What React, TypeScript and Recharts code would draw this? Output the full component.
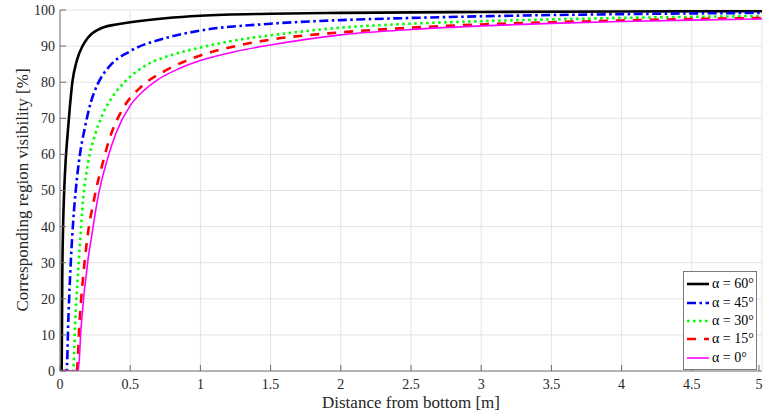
import React from 'react';
import { LineChart, Line, XAxis, YAxis, CartesianGrid, Legend } from 'recharts';

// distance from bottom [m] and visibility [%] for each alpha
const dist60 = [0, 0.012, 0.016, 0.022, 0.03, 0.04, 0.055, 0.07, 0.088, 0.12, 0.16, 0.2, 0.285, 0.4, 0.5, 0.75, 1, 1.5, 2, 3, 4, 5];
const vis60 = [0, 0, 25, 40, 50, 58, 66, 73, 80, 86, 90, 92.4, 94.8, 96, 96.6, 97.7, 98.4, 98.95, 99.2, 99.45, 99.6, 99.7];

const dist45 = [0, 0.047, 0.06, 0.078, 0.095, 0.112, 0.142, 0.175, 0.22, 0.27, 0.35, 0.5, 0.75, 1, 1.5, 2, 2.5, 3, 3.5, 4, 4.5, 5];
const vis45 = [0, 0, 15, 31, 42, 50, 60, 67, 74.5, 79.6, 84.3, 88.6, 92.2, 94.3, 96.2, 97.2, 97.8, 98.25, 98.6, 98.85, 99.05, 99.2];

const dist30 = [0, 0.093, 0.11, 0.135, 0.166, 0.2, 0.25, 0.3, 0.38, 0.47, 0.6, 0.8, 1, 1.25, 1.5, 2, 2.5, 3, 3.5, 4, 4.5, 5];
const vis30 = [0, 0, 15, 31, 48, 57.6, 65.5, 70.8, 76.3, 80.4, 84.4, 87.6, 89.6, 91.6, 93, 95.1, 96.2, 96.9, 97.4, 97.8, 98.1, 98.3];

const dist15 = [0, 0.119, 0.14, 0.18, 0.25, 0.3, 0.35, 0.45, 0.58, 0.75, 1, 1.25, 1.5, 2, 2.5, 3, 3.5, 4, 4.5, 5];
const vis15 = [0, 0, 14, 32, 49, 57, 64, 72.8, 78.8, 83.2, 87.4, 90, 91.8, 93.8, 95.1, 96, 96.6, 97.1, 97.5, 97.8];

const dist0 = [0, 0.13, 0.15, 0.2, 0.226, 0.27, 0.34, 0.4, 0.5, 0.6, 0.7, 0.85, 1, 1.25, 1.5, 2, 2.5, 3, 3.5, 4, 4.5, 5];
const vis0 = [0, 0, 12, 31, 37.5, 48, 59, 66, 73.5, 77.8, 80.8, 83.8, 86, 88.5, 90.3, 93.1, 94.6, 95.6, 96.3, 96.8, 97.2, 97.5];

const xTicks = [0, 0.5, 1, 1.5, 2, 2.5, 3, 3.5, 4, 4.5, 5];
const yTicks = [0, 10, 20, 30, 40, 50, 60, 70, 80, 90, 100];

const zip = (d: number[], v: number[]) => d.map((x, i) => ({ d: x, v: v[i] }));

const series = [
  { name: 'α = 60°', data: zip(dist60, vis60), color: '#000000', width: 2.6, dash: undefined },
  { name: 'α = 45°', data: zip(dist45, vis45), color: '#0000ff', width: 2.6, dash: '9 3.5 2.5 3.5' },
  { name: 'α = 30°', data: zip(dist30, vis30), color: '#00ff00', width: 2.6, dash: '2.5 3.5' },
  { name: 'α = 15°', data: zip(dist15, vis15), color: '#ff0000', width: 2.6, dash: '9 8' },
  { name: 'α = 0°', data: zip(dist0, vis0), color: '#ff00ff', width: 1.6, dash: undefined },
];

const FONT = '"Liberation Serif", "Times New Roman", serif';
const TICK_LEN = 6;
const TICK_COLOR = '#6a6a6a';

// bottom axis: label below, tick mark pointing into the plot
const XTick = ({ x, y, payload }: any) => (
  <g>
    <line x1={x} x2={x} y1={y - 8} y2={y - 8 - TICK_LEN} stroke={TICK_COLOR} />
    <text x={x} y={y} dy="0.71em" textAnchor="middle" fontSize={14} fill="#262626" fontFamily={FONT}>
      {payload.value}
    </text>
  </g>
);

const YTick = ({ x, y, payload }: any) => (
  <g>
    <line x1={x + 5} x2={x + 5 + TICK_LEN} y1={y} y2={y} stroke={TICK_COLOR} />
    <text x={x} y={y} dy="0.355em" textAnchor="end" fontSize={14} fill="#262626" fontFamily={FONT}>
      {payload.value}
    </text>
  </g>
);

const TopTick = ({ x, y }: any) => <line x1={x} x2={x} y1={y} y2={y + TICK_LEN} stroke={TICK_COLOR} />;
const RightTick = ({ x, y }: any) => <line x1={x} x2={x - TICK_LEN} y1={y} y2={y} stroke={TICK_COLOR} />;

const LegendBox = () => (
  <div
    style={{
      border: '1px solid #7a7a7a',
      background: '#fff',
      width: 72,
      padding: '3px 0 2px 0',
      fontFamily: FONT,
      fontSize: 14,
      color: '#000',
    }}
  >
    {series.map((s) => (
      <div key={s.name} style={{ display: 'flex', alignItems: 'center', height: 18.4 }}>
        <svg width={28} height={10} style={{ display: 'block' }}>
          <line x1={3} y1={5} x2={25} y2={5} stroke={s.color} strokeWidth={s.width} strokeDasharray={s.dash} />
        </svg>
        <span style={{ whiteSpace: 'nowrap', lineHeight: '18px' }}>{s.name}</span>
      </div>
    ))}
  </div>
);

export default function App() {
  return (
    <div style={{ position: 'absolute', left: 0, top: 0, width: 763, height: 416, background: '#fff', fontFamily: FONT }}>
      <LineChart width={763} height={416} margin={{ top: 10, right: 1, bottom: 20, left: 0 }}>
        <CartesianGrid stroke="#e3e3e3" strokeWidth={1} />
        <XAxis
          dataKey="d"
          type="number"
          domain={[0, 5]}
          ticks={xTicks}
          tick={<XTick />}
          tickLine={false}
          tickSize={6}
          tickMargin={2}
          axisLine={{ stroke: '#777' }}
          height={25}
          allowDataOverflow
        />
        <XAxis
          xAxisId="top"
          orientation="top"
          type="number"
          domain={[0, 5]}
          ticks={xTicks}
          tick={<TopTick />}
          tickLine={false}
          tickSize={0}
          tickMargin={0}
          axisLine={{ stroke: '#777' }}
          height={0}
        />
        <YAxis
          type="number"
          domain={[0, 100]}
          ticks={yTicks}
          tick={<YTick />}
          tickLine={false}
          tickSize={3}
          tickMargin={2}
          axisLine={{ stroke: '#777' }}
          width={60}
          allowDataOverflow
        />
        <YAxis
          yAxisId="right"
          orientation="right"
          type="number"
          domain={[0, 100]}
          ticks={yTicks}
          tick={<RightTick />}
          tickLine={false}
          tickSize={0}
          tickMargin={0}
          axisLine={{ stroke: '#777' }}
          width={0}
        />
        <Legend
          layout="vertical"
          align="center"
          verticalAlign="middle"
          wrapperStyle={{ left: 683, top: 271, width: 74 }}
          content={() => <LegendBox />}
        />
        {series.map((s) => (
          <Line
            key={s.name}
            data={s.data}
            dataKey="v"
            name={s.name}
            type="monotone"
            stroke={s.color}
            strokeWidth={s.width}
            strokeDasharray={s.dash}
            dot={false}
            activeDot={false}
            isAnimationActive={false}
          />
        ))}
      </LineChart>
      <div
        style={{
          position: 'absolute',
          left: 60,
          width: 702,
          top: 393,
          textAlign: 'center',
          fontSize: 17,
          lineHeight: '20px',
          color: '#262626',
        }}
      >
        Distance from bottom [m]
      </div>
      <div
        style={{
          position: 'absolute',
          left: 23 - 180,
          top: 190 - 10,
          width: 360,
          height: 20,
          textAlign: 'center',
          fontSize: 17,
          lineHeight: '20px',
          color: '#262626',
          transform: 'rotate(-90deg)',
        }}
      >
        Corresponding region visibility [%]
      </div>
    </div>
  );
}
